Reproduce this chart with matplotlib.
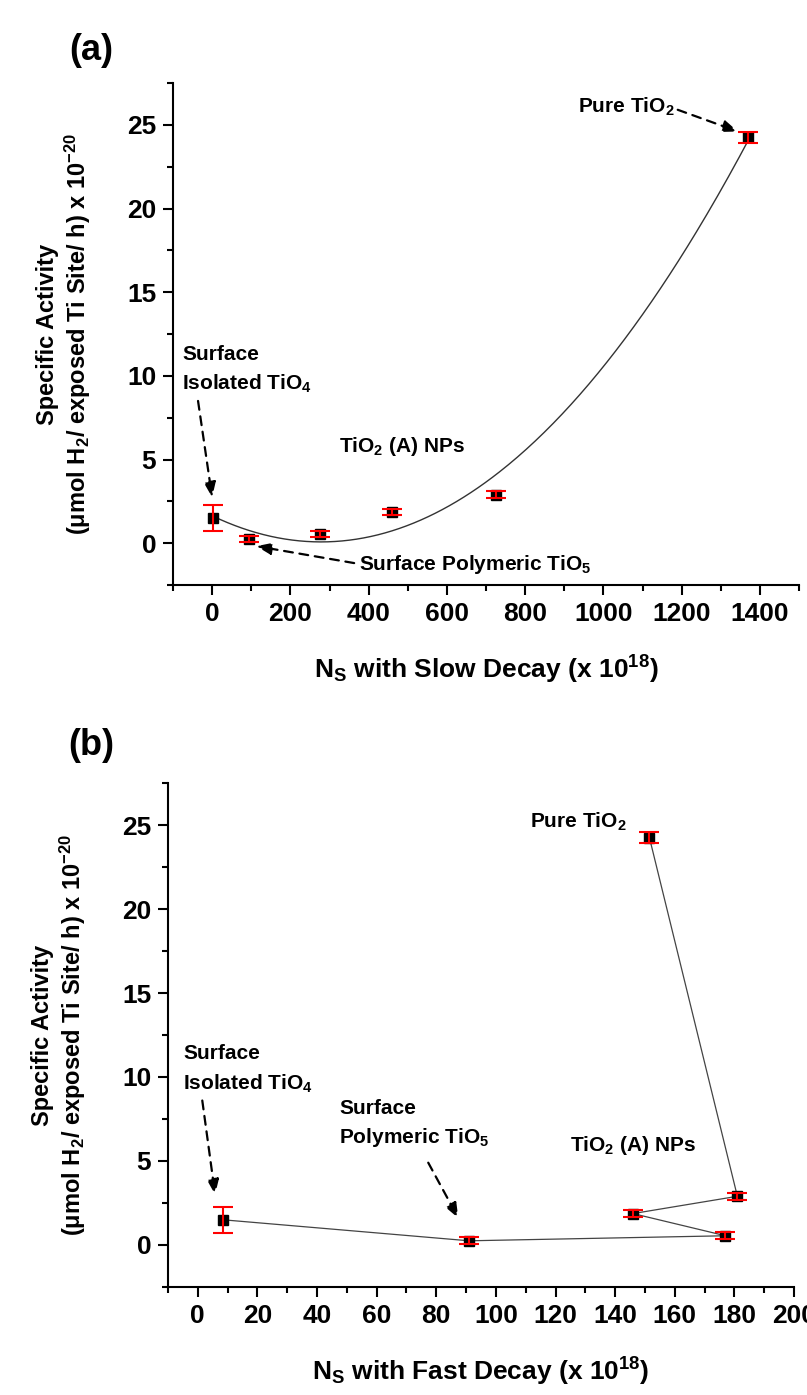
import numpy as np
import matplotlib
matplotlib.use("Agg")
import matplotlib.pyplot as plt
from matplotlib.ticker import MultipleLocator

plt.rcParams["font.family"] = ["Liberation Sans", "DejaVu Sans"]
plt.rcParams["font.weight"] = "bold"
plt.rcParams["mathtext.fontset"] = "custom"
plt.rcParams["mathtext.bf"] = "Liberation Sans:bold"
plt.rcParams["mathtext.rm"] = "Liberation Sans:bold"
plt.rcParams["mathtext.default"] = "bf"

# ── Data ──────────────────────────────────────────────────────────────────────
# specific activity (x 10^-20) and error for the six samples
activity = [1.5, 0.25, 0.55, 1.87, 2.9, 24.25]
act_err = [0.78, 0.2, 0.2, 0.2, 0.2, 0.35]

# N_S with slow decay (x 10^18)
ns_slow = [3, 95, 275, 460, 725, 1370]
# N_S with fast decay (x 10^18)
ns_fast = [8.5, 91, 177, 146, 181, 151.5]

FS_TICK = 19
FS_LAB = 17
FS_ANN = 15

fig = plt.figure(figsize=(8.07, 13.95), dpi=100)
ax_a = fig.add_axes([173 / 807, 1 - 585 / 1395, 626 / 807, 502 / 1395])
ax_b = fig.add_axes([168 / 807, 1 - 1287 / 1395, 626 / 807, 504 / 1395])


def style_axis(ax, xlim, xmaj, xmin, xlabel):
    ax.set_xlim(*xlim)
    ax.set_ylim(-2.5, 27.5)
    ax.xaxis.set_major_locator(MultipleLocator(xmaj))
    ax.xaxis.set_minor_locator(MultipleLocator(xmin))
    ax.yaxis.set_major_locator(MultipleLocator(5))
    ax.yaxis.set_minor_locator(MultipleLocator(2.5))
    for s in ["top", "right"]:
        ax.spines[s].set_visible(False)
    for s in ["left", "bottom"]:
        ax.spines[s].set_linewidth(1.5)
    ax.tick_params(which="major", direction="out", length=7, width=1.5,
                   labelsize=FS_TICK, pad=5)
    ax.tick_params(which="minor", direction="out", length=4, width=1.5)
    for lab in ax.get_xticklabels() + ax.get_yticklabels():
        lab.set_fontweight("bold")
    ax.set_xlabel(xlabel, fontsize=19, fontweight="bold", labelpad=20)
    ax.set_ylabel("Specific Activity\n(μmol H$_2$/ exposed Ti Site/ h) x 10$^{-20}$",
                  fontsize=FS_LAB, fontweight="bold", linespacing=1.2)
    ax.yaxis.set_label_coords(-0.127, 0.5)


def draw_points(ax, x):
    ax.plot(x, activity, "s", color="black", ms=7.5, zorder=3)
    ax.errorbar(x, activity, yerr=act_err, fmt="none", ecolor="red",
                elinewidth=1.5, capsize=7, capthick=1.5, zorder=4)


def dashed_arrow(ax, start, end):
    ax.annotate("", xy=end, xytext=start,
                arrowprops=dict(arrowstyle="-|>,head_length=0.9,head_width=0.35",
                                linestyle=(0, (4, 3)), color="black", lw=1.6,
                                shrinkA=0, shrinkB=0))


# ── Panel (a) ─────────────────────────────────────────────────────────────────
style_axis(ax_a, (-100, 1500), 200, 100,
           "N$_S$ with Slow Decay (x 10$^{18}$)")
coef = np.polyfit(ns_slow, activity, 2)
xfit = np.linspace(min(ns_slow), max(ns_slow), 300)
ax_a.plot(xfit, np.polyval(coef, xfit), color="#333333", lw=1.0, zorder=2)
draw_points(ax_a, ns_slow)

ax_a.text(934, 26.1, "Pure TiO$_2$", fontsize=FS_ANN, va="center", ha="left")
dashed_arrow(ax_a, (1190, 25.9), (1344, 24.6))
ax_a.text(-77, 11.3, "Surface", fontsize=FS_ANN, va="center", ha="left")
ax_a.text(-77, 9.5, "Isolated TiO$_4$", fontsize=FS_ANN, va="center", ha="left")
dashed_arrow(ax_a, (-36, 8.5), (0, 2.74))
ax_a.text(325, 5.8, "TiO$_2$ (A) NPs", fontsize=FS_ANN, va="center", ha="left")
ax_a.text(376, -1.25, "Surface Polymeric TiO$_5$", fontsize=FS_ANN,
          va="center", ha="left")
dashed_arrow(ax_a, (363, -1.19), (113, -0.18))

# ── Panel (b) ─────────────────────────────────────────────────────────────────
style_axis(ax_b, (-10, 200), 20, 10,
           "N$_S$ with Fast Decay (x 10$^{18}$)")
ax_b.plot(ns_fast, activity, color="#444444", lw=0.9, zorder=2)
draw_points(ax_b, ns_fast)

ax_b.text(144, 25.2, "Pure TiO$_2$", fontsize=FS_ANN, va="center", ha="right")
ax_b.text(-4.9, 11.4, "Surface", fontsize=FS_ANN, va="center", ha="left")
ax_b.text(-4.9, 9.6, "Isolated TiO$_4$", fontsize=FS_ANN, va="center", ha="left")
dashed_arrow(ax_b, (1.5, 8.6), (5.8, 3.0))
ax_b.text(47.5, 8.1, "Surface", fontsize=FS_ANN, va="center", ha="left")
ax_b.text(47.5, 6.4, "Polymeric TiO$_5$", fontsize=FS_ANN, va="center", ha="left")
dashed_arrow(ax_b, (77.3, 4.9), (87.4, 1.6))
ax_b.text(125, 5.95, "TiO$_2$ (A) NPs", fontsize=FS_ANN, va="center", ha="left")

fig.text(91 / 807, 1 - 50 / 1395, "(a)", fontsize=26, fontweight="bold",
         ha="center", va="center")
fig.text(91 / 807, 1 - 745 / 1395, "(b)", fontsize=26, fontweight="bold",
         ha="center", va="center")

fig.savefig("out.png", dpi=100)
